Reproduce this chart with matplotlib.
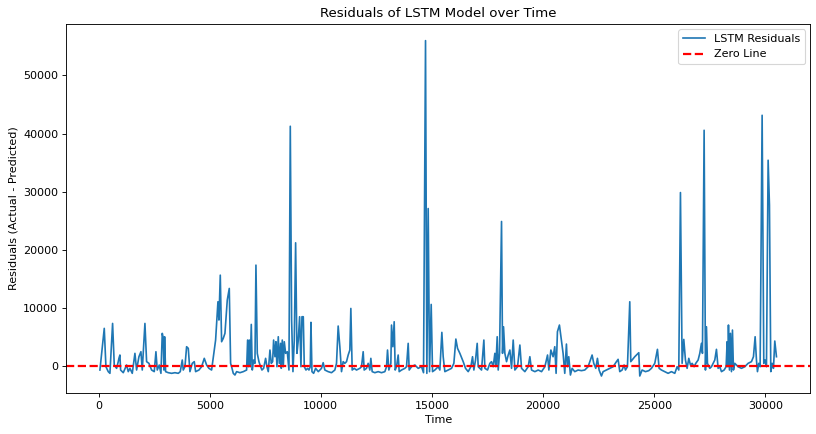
import matplotlib
matplotlib.use("Agg")
import matplotlib.pyplot as plt

# residual series (time step, residual)
time_steps = [
    61, 256, 331, 436, 511, 631, 706, 811, 886, 916, 961, 991, 1111, 1261, 1336, 1411,
    1516, 1636, 1711, 1816, 1906, 1966, 2086, 2161, 2266, 2386, 2506, 2581, 2641, 2731,
    2806, 2866, 2911, 2941, 2971, 3016, 3136, 3286, 3436, 3586, 3676, 3766, 3811, 3886,
    3961, 4036, 4111, 4216, 4306, 4366, 4516, 4636, 4756, 4861, 4966, 5086, 5266, 5371,
    5416, 5476, 5536, 5611, 5686, 5791, 5881, 5941, 5986, 6061, 6136, 6211, 6361, 6511,
    6661, 6706, 6751, 6781, 6826, 6871, 6916, 6976, 7036, 7081, 7141, 7216, 7291, 7351,
    7426, 7516, 7576, 7636, 7711, 7771, 7831, 7876, 7936, 7981, 8026, 8086, 8131, 8191,
    8221, 8266, 8311, 8356, 8416, 8491, 8566, 8626, 8686, 8746, 8806, 8866, 8926, 8986,
    9046, 9106, 9151, 9211, 9256, 9331, 9406, 9466, 9526, 9556, 9601, 9676, 9766, 9886,
    10031, 10106, 10181, 10331, 10481, 10631, 10706, 10781, 10856, 10931, 11006, 11081,
    11156, 11231, 11306, 11351, 11411, 11501, 11606, 11756, 11831, 11906, 11951, 12056,
    12131, 12206, 12251, 12311, 12431, 12581, 12731, 12881, 12956, 13001, 13061, 13151,
    13181, 13241, 13301, 13346, 13406, 13481, 13526, 13631, 13781, 13856, 13931, 13976,
    14081, 14231, 14381, 14531, 14621, 14711, 14771, 14831, 14891, 14966, 15026, 15131,
    15281, 15356, 15446, 15506, 15581, 15731, 15881, 15986, 16076, 16151, 16256, 16406,
    16511, 16631, 16751, 16826, 16886, 16961, 17036, 17081, 17156, 17231, 17336, 17381,
    17501, 17606, 17681, 17756, 17831, 17876, 17936, 17981, 18041, 18131, 18176, 18221,
    18281, 18356, 18431, 18506, 18581, 18656, 18731, 18851, 18956, 19031, 19181, 19331,
    19406, 19481, 19631, 19781, 19931, 20081, 20201, 20261, 20351, 20451, 20526, 20586,
    20646, 20736, 20826, 20901, 20976, 21051, 21096, 21156, 21231, 21306, 21426, 21576,
    21726, 21876, 22026, 22131, 22206, 22281, 22371, 22446, 22521, 22626, 22701, 22851,
    23001, 23151, 23301, 23376, 23451, 23556, 23646, 23706, 23796, 23901, 23946, 24126,
    24306, 24351, 24456, 24606, 24756, 24876, 25026, 25146, 25221, 25326, 25476, 25626,
    25776, 25926, 26031, 26106, 26181, 26256, 26331, 26406, 26481, 26556, 26631, 26706,
    26796, 26871, 26976, 27051, 27126, 27171, 27246, 27306, 27351, 27396, 27501, 27576,
    27651, 27726, 27801, 27876, 27951, 28026, 28146, 28236, 28281, 28311, 28341, 28386,
    28431, 28476, 28521, 28566, 28626, 28776, 28926, 29076, 29226, 29376, 29466, 29541,
    29601, 29646, 29706, 29766, 29856, 29931, 29991, 30051, 30126, 30186, 30246, 30306,
    30366, 30426, 30501,
]
residuals = [
    -690, 6480, -120, -970, -1260, 7330, 170, -400, 750, 1320, 1890, -690, -1150, 170, -970, -400,
    -1260, 2180, -690, 1600, 2460, -690, 7330, 750, 460, -690, -970, 2460, -690, 170,
    -1260, 5620, 4760, -690, 5040, -970, -1150, -1260, -1150, -1260, -970, 1030, -690, -120,
    3320, 3040, -970, 460, 750, -970, -690, -120, 1320, 170, -400, -690, 4470, 11060,
    7910, 15640, 4180, 4760, 5620, 11350, 13350, 460, -120, -1260, -1550, -970, -1150, -970,
    -690, 4470, -120, 4470, -120, 7160, -690, 1030, 460, 17360, 2180, 750, -120, -690,
    -400, 1320, -120, -970, 2750, 460, 750, 4470, 1600, 4180, -120, 5040, 460, 3900,
    -400, 4470, -120, 4180, 2180, 2460, -690, 41260, 7910, -970, 4470, 21200, 2180, 4470,
    8480, -120, 8480, 8480, -120, -690, -400, -690, -120, 7510, -970, -1260, -400, -970,
    -400, 570, -690, -970, -1150, -690, 460, 6880, 3320, -970, 750, 460,
    750, 1890, 2750, 9910, -690, -400, -690, -400, -120, 2460, -690, -400,
    460, -690, 1320, -970, -1150, -970, -1150, -970, -120, 2750, -690, 460,
    7050, 3320, 7620, -690, -120, 1890, -970, -690, -400, -120, 3900, -690,
    -120, 170, -400, -120, -1150, 56000, -1260, 27100, -970, 10600, -970, -690,
    -120, -690, 5790, 1600, -970, -690, -400, 460, 4640, 3040, 2180, 750,
    -400, -970, -120, 1600, -690, 1030, 3900, -120, -400, -690, 4470, -400,
    -690, 460, 750, -120, 2180, -120, 5040, -690, 2180, 24870, 2180, 6760,
    2180, 750, 1890, 2750, -400, 4470, -690, -120, 3610, -400, -970, -120,
    1600, -690, -970, -690, -970, -120, 1890, -690, 2750, 1600, 3320, -1260,
    5900, 7050, 4470, 2180, -1260, 3780, -120, 1600, -1550, -400, -970, -690,
    -800, -690, -120, 1030, 1890, 460, -400, 1320, -690, -1720, -970, -690,
    -400, -120, 750, 1150, -970, -690, 170, -690, -120, 11060, 750, 1600,
    2290, -1720, -690, -970, -800, -400, 460, 2870, -400, -690, -970, -1260,
    -970, -1260, -120, -690, 29850, 460, 4580, 1030, -400, 1320, 170, 460,
    -120, 460, 1030, 2180, 3900, 2180, 40570, -690, 6760, 460, -400, -120,
    460, 1030, 2870, -400, -120, -970, -690, -120, 4180, -120, 7050, -690,
    5620, -970, 6190, -690, 460, -120, -400, -120, 460, 750, 1600, 5040,
    1030, -970, 460, -120, 43150, 460, 1030, -120, 35410, 27680, -970, 460,
    -400, 4300, 1600,
]

fig, ax = plt.subplots(figsize=(10.2, 5.425), dpi=80)
fig.subplots_adjust(left=0.081, right=0.993, bottom=0.095, top=0.945)

ax.plot(time_steps, residuals, color="#1f77b4", linewidth=1.5, label="LSTM Residuals")
ax.axhline(0, color="red", linestyle="--", linewidth=2, label="Zero Line")

ax.set_title("Residuals of LSTM Model over Time")
ax.set_xlabel("Time")
ax.set_ylabel("Residuals (Actual - Predicted)")
ax.legend(loc="upper right")

fig.savefig("out.png", dpi=80)
